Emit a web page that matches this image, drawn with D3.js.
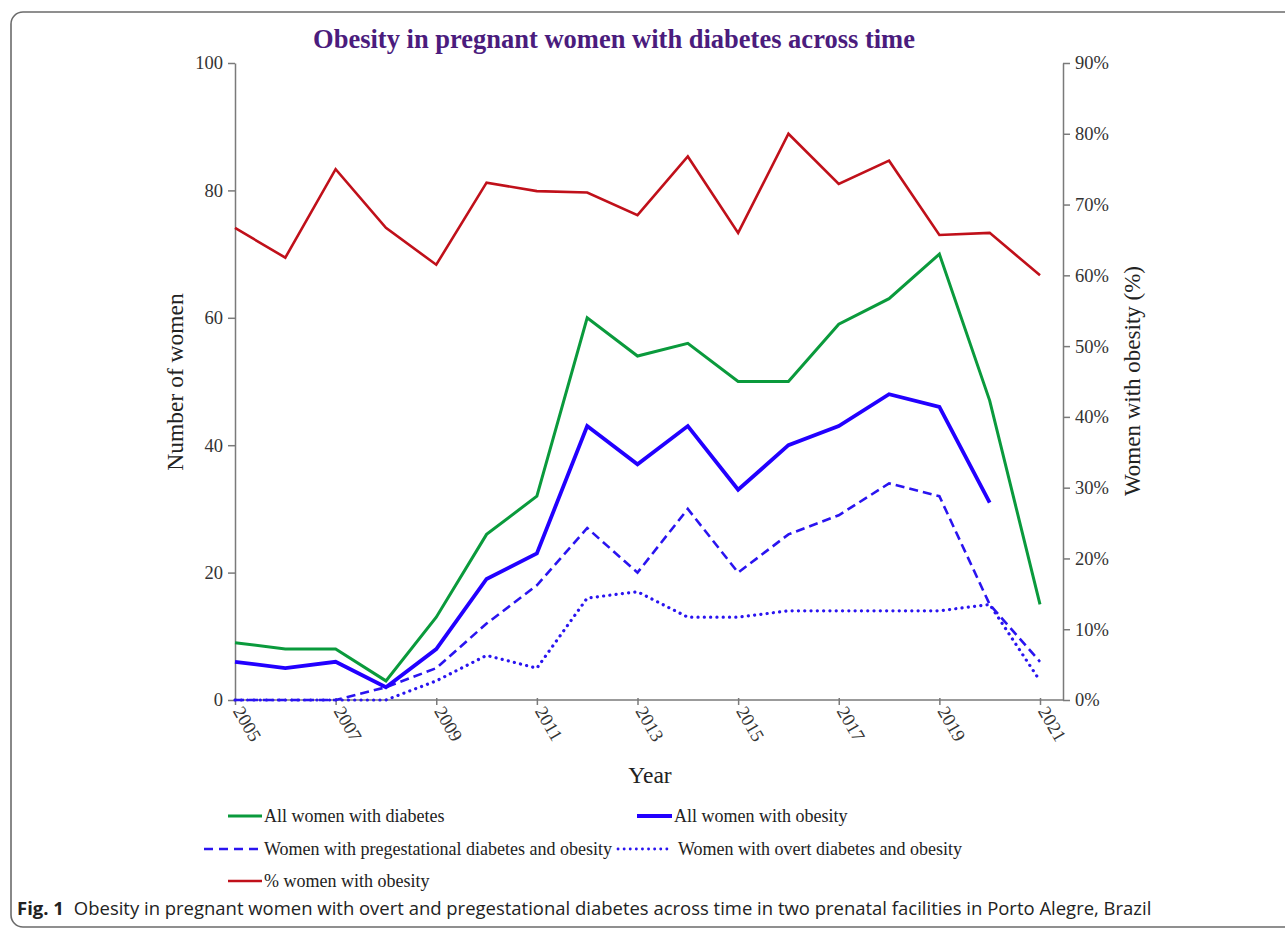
<!DOCTYPE html>
<html>
<head>
<meta charset="utf-8">
<script src="https://cdn.jsdelivr.net/npm/d3@7/dist/d3.min.js"></script>
<style>
  html, body { margin: 0; padding: 0; background: #fff; }
  svg { display: block; }
</style>
</head>
<body>
<svg id="chart" width="1285" height="929"></svg>
<script>
// ---- data ----
const years = [2005,2006,2007,2008,2009,2010,2011,2012,2013,2014,2015,2016,2017,2018,2019,2020,2021];
const allDiabetes   = [9,8,8,3,13,26,32,60,54,56,50,50,59,63,70,47,15];
const allObesity    = [6,5,6,2,8,19,23,43,37,43,33,40,43,48,46,31,null];
const pregestObese  = [0,0,0,2,5,12,18,27,20,30,20,26,29,34,32,15,6];
const overtObese    = [0,0,0,0,3,7,5,16,17,13,13,14,14,14,14,15,3];
const pctObese      = [66.7,62.5,75.0,66.7,61.5,73.1,71.9,71.7,68.5,76.8,66.0,80.0,72.9,76.2,65.7,66.0,60.0];
const leftTicks  = [0,20,40,60,80,100];
const rightTicks = [0,10,20,30,40,50,60,70,80,90];
const xTicks = [2005,2007,2009,2011,2013,2015,2017,2019,2021];
const titleText = "Obesity in pregnant women with diabetes across time";
const captionBold = "Fig. 1";
const captionText = "Obesity in pregnant women with overt and pregestational diabetes across time in two prenatal facilities in Porto Alegre, Brazil";
const legendLabels = ["All women with diabetes","All women with obesity","Women with pregestational diabetes and obesity","Women with overt diabetes and obesity","% women with obesity"];

const svg = d3.select("#chart");
const serif = "'Liberation Serif','Times New Roman',serif";

// frame
svg.append("rect").attr("x",11).attr("y",12).attr("width",1300).attr("height",915)
  .attr("rx",12).attr("fill","none").attr("stroke","#6b6b6b").attr("stroke-width",1.6);

const x = d3.scaleLinear().domain([2005,2021]).range([235,1040]);
const yL = d3.scaleLinear().domain([0,100]).range([700,63]);
const yR = d3.scaleLinear().domain([0,90]).range([700,63]);
const xRightAxis = 1063;

// title
svg.append("text").attr("x",614).attr("y",48).attr("text-anchor","middle")
  .attr("font-family",serif).attr("font-weight","bold").attr("font-size",26.5)
  .attr("fill","#4b1c7d").text(titleText);

const axisColor = "#7a7a7a";
const textColor = "#333";

// left axis
const gL = svg.append("g").attr("transform","translate(235,0)")
  .call(d3.axisLeft(yL).tickValues(leftTicks).tickSize(7).tickSizeOuter(0));
gL.select(".domain").attr("stroke",axisColor).attr("stroke-width",1.5);
gL.selectAll(".tick line").attr("stroke",axisColor).attr("stroke-width",1.5);
gL.selectAll(".tick text").attr("font-family",serif).attr("font-size",18.5).attr("fill",textColor).attr("x",-12);

// right axis
const gR = svg.append("g").attr("transform",`translate(${xRightAxis},0)`)
  .call(d3.axisRight(yR).tickValues(rightTicks).tickSize(7).tickSizeOuter(0).tickFormat(d => d + "%"));
gR.select(".domain").attr("stroke",axisColor).attr("stroke-width",1.5);
gR.selectAll(".tick line").attr("stroke",axisColor).attr("stroke-width",1.5);
gR.selectAll(".tick text").attr("font-family",serif).attr("font-size",18.5).attr("fill",textColor).attr("x",12);

// x axis
svg.append("line").attr("x1",235).attr("x2",xRightAxis).attr("y1",700).attr("y2",700)
  .attr("stroke",axisColor).attr("stroke-width",1.5);
const gX = svg.append("g").attr("transform","translate(0,700)")
  .call(d3.axisBottom(x).tickValues(xTicks).tickSize(5).tickFormat(d3.format("d")));
gX.select(".domain").remove();
gX.selectAll(".tick line").attr("stroke",axisColor).attr("stroke-width",1.5).attr("y1",-2);
gX.selectAll(".tick text").attr("font-family",serif).attr("font-size",18.5).attr("fill",textColor)
  .attr("text-anchor","start").attr("y",0).attr("dy",0)
  .attr("transform","translate(-3,11) rotate(60)");

// axis titles
svg.append("text").attr("transform","translate(183,382) rotate(-90)").attr("text-anchor","middle")
  .attr("font-family",serif).attr("font-size",23.5).attr("fill","#222").text("Number of women");
svg.append("text").attr("transform","translate(1140,381) rotate(-90)").attr("text-anchor","middle")
  .attr("font-family",serif).attr("font-size",23).attr("fill","#222").text("Women with obesity (%)");
svg.append("text").attr("x",650).attr("y",783).attr("text-anchor","middle")
  .attr("font-family",serif).attr("font-size",23.5).attr("fill","#222").text("Year");

// series
const series = [
  {vals: overtObese, y: yL, color:"#2a14f0", w:3.2, dash:"0.1,6.2", cap:"round"},
  {vals: pregestObese, y: yL, color:"#2a14f0", w:2.6, dash:"9,5", cap:"butt"},
  {vals: allObesity, y: yL, color:"#2200ff", w:3.8, dash:null, cap:"butt"},
  {vals: allDiabetes, y: yL, color:"#0a9a3c", w:3, dash:null, cap:"butt"},
  {vals: pctObese, y: yR, color:"#c0101a", w:2.6, dash:null, cap:"butt"}
];
series.forEach(s => {
  const line = d3.line().defined(d => d[1] !== null)
    .x(d => x(d[0])).y(d => s.y(d[1]));
  svg.append("path").datum(years.map((yr,i) => [yr, s.vals[i]]))
    .attr("d", line).attr("fill","none").attr("stroke",s.color)
    .attr("stroke-width",s.w).attr("stroke-linejoin","miter")
    .attr("stroke-linecap",s.cap)
    .attr("stroke-dasharray", s.dash);
});

// legend
const legendItems = [
  {label: legendLabels[0], x1:228, x2:262, tx:264, y:816, color:"#0a9a3c", w:3, dash:null, cap:"butt"},
  {label: legendLabels[1], x1:637, x2:672, tx:674, y:816, color:"#2200ff", w:3.8, dash:null, cap:"butt"},
  {label: legendLabels[2], x1:204, x2:262, tx:264, y:849, color:"#2a14f0", w:2.4, dash:"9,6", cap:"butt"},
  {label: legendLabels[3], x1:618, x2:672, tx:678, y:849, color:"#2a14f0", w:2.8, dash:"0.1,6", cap:"round"},
  {label: legendLabels[4], x1:228, x2:262, tx:264, y:881, color:"#c0101a", w:2.6, dash:null, cap:"butt"}
];
legendItems.forEach(it => {
  svg.append("line").attr("x1",it.x1).attr("x2",it.x2).attr("y1",it.y).attr("y2",it.y)
    .attr("stroke",it.color).attr("stroke-width",it.w).attr("stroke-dasharray",it.dash)
    .attr("stroke-linecap",it.cap);
  svg.append("text").attr("x",it.tx).attr("y",it.y+6).attr("font-family",serif)
    .attr("font-size",18).attr("fill","#222").text(it.label);
});

// caption
const cap = svg.append("text").attr("x",17).attr("y",915)
  .attr("font-family","'Open Sans','Noto Sans',sans-serif").attr("font-size",18).attr("fill","#222");
cap.append("tspan").attr("font-weight","bold").text(captionBold);
cap.append("tspan").attr("dx",10).text(captionText);
// fit caption width to reference span
const bw = cap.node().getBBox().width;
const target = 1135;
cap.attr("font-size", 18 * target / bw);
</script>
</body>
</html>
